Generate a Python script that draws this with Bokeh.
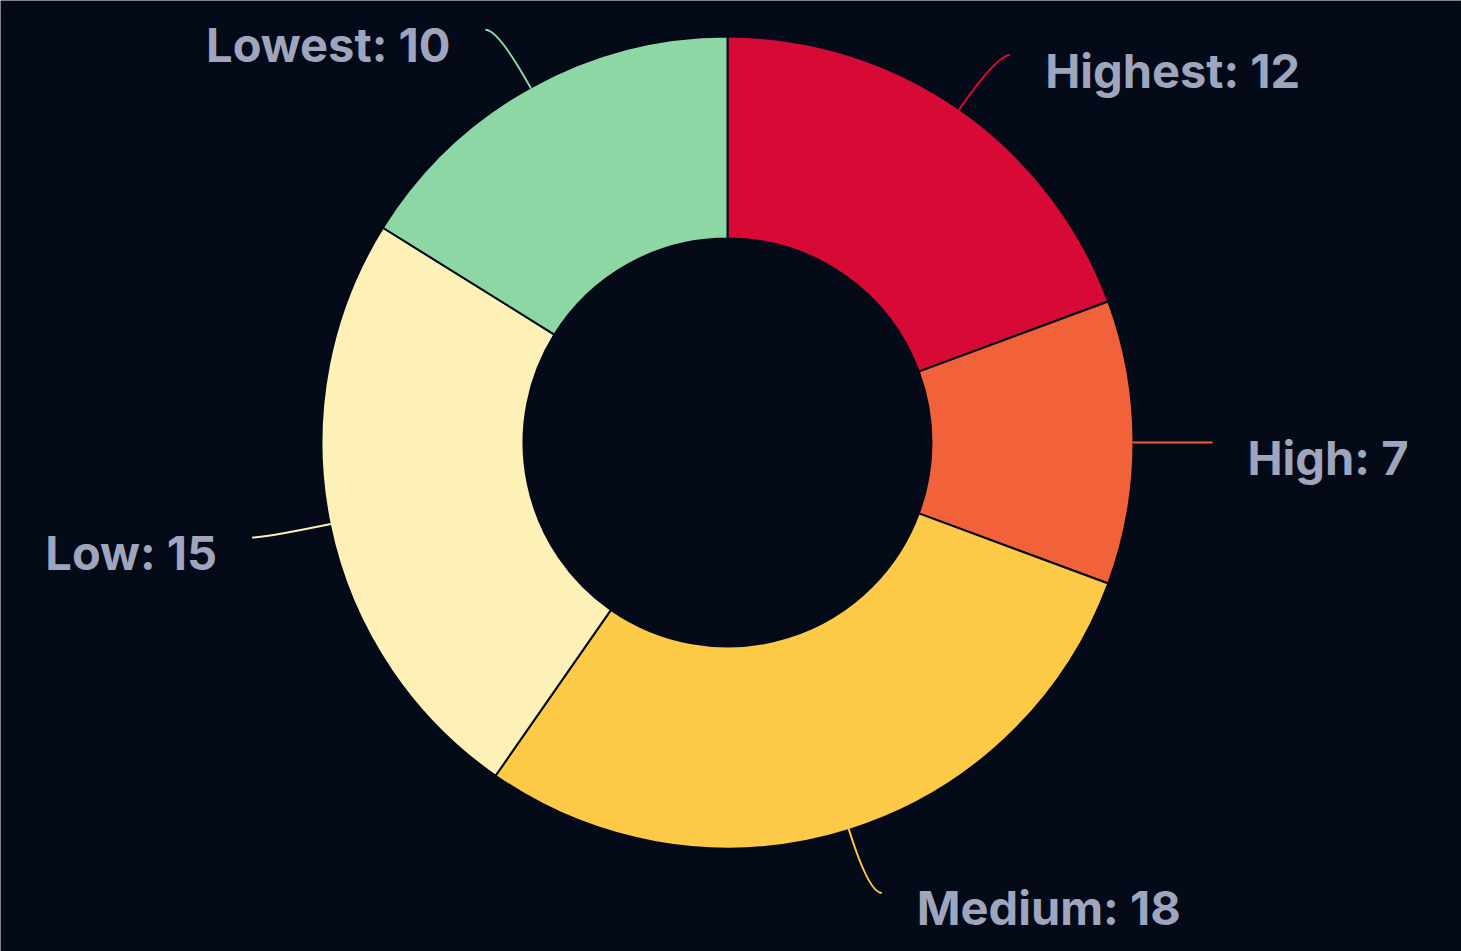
import numpy as np
from bokeh.plotting import figure
from bokeh.models import ColumnDataSource, Range1d
from bokeh.embed import file_html
from bokeh.resources import INLINE
from bokeh.core.properties import value

names = ["Highest", "High", "Medium", "Low", "Lowest"]
values = [12, 7, 18, 15, 10]
colors = ["#d70a36", "#f2623a", "#fdca48", "#fdf1b8", "#8dd7a5"]

BG = "#050a18"
TEXT = "#9ea5bd"
W, H = 1461, 951
cx, cy = 727, H - 442
r_in, r_out = 204, 406
L1, L2 = 66, 13

vals = np.array(values, dtype=float)
total = vals.sum()
cum = np.concatenate([[0], np.cumsum(vals)])
upper = np.pi / 2 - 2 * np.pi * cum[:-1] / total
lower = np.pi / 2 - 2 * np.pi * cum[1:] / total
mid = (upper + lower) / 2

p = figure(width=W, height=H, output_backend="svg", toolbar_location=None,
           x_range=Range1d(0, W), y_range=Range1d(0, H), min_border=0)
p.axis.visible = False
p.grid.visible = False
p.outline_line_color = None
p.background_fill_color = BG
p.border_fill_color = BG

src = ColumnDataSource(dict(x=[cx] * len(vals), y=[cy] * len(vals),
                            start=lower, end=upper, color=colors))
p.annular_wedge(x="x", y="y", inner_radius=r_in, outer_radius=r_out,
                start_angle="start", end_angle="end", direction="anticlock",
                fill_color="color", line_color=BG, line_width=2, source=src)

# leader lines: radial part then short horizontal part, smoothed
sign = np.where(np.cos(mid) >= 0, 1.0, -1.0)
ax = cx + (r_out - 1) * np.cos(mid)
ay = cy + (r_out - 1) * np.sin(mid)
bx = cx + (r_out + L1) * np.cos(mid)
by = cy + (r_out + L1) * np.sin(mid)
ex = bx + sign * L2
ey = by
p.quadratic(x0=list(ax), y0=list(ay), x1=list(ex), y1=list(ey),
            cx=list(bx), cy=list(by), line_color=colors, line_width=2)

# labels
right = sign > 0
lx = ex + sign * 35
ly = ey - 15
labels = [f"{n}: {v}" for n, v in zip(names, values)]
for i in range(len(vals)):
    p.text(x=[lx[i]], y=[ly[i]], text=[labels[i]],
           text_align="left" if right[i] else "right",
           text_baseline="middle", text_color=TEXT,
           text_font=value("Inter"), text_font_size="47px",
           text_font_style="bold")

open("out.html", "w").write(file_html(p, INLINE))
